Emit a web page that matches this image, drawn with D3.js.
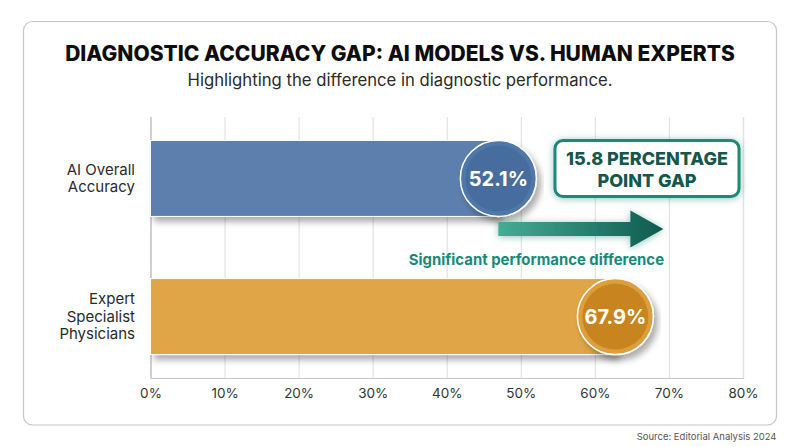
<!DOCTYPE html>
<html>
<head>
<meta charset="utf-8">
<script src="https://cdn.jsdelivr.net/npm/d3@7/dist/d3.min.js"></script>
<style>
  html, body { margin: 0; padding: 0; background: #fff; }
  svg { display: block; }
  text { font-family: Inter, "Open Sans", sans-serif; }
  .tick text { font-size: 13.5px; fill: #333; }
</style>
</head>
<body>
<div id="chart"></div>
<script>
var categories = ["AI Overall Accuracy", "Expert Specialist Physicians"];
var categoryLines = [["AI Overall", "Accuracy"], ["Expert", "Specialist", "Physicians"]];
var values = [52.1, 67.9];
var tickValues = [0, 10, 20, 30, 40, 50, 60, 70, 80];
var barColors = ["#5b7fad", "#e0a546"];
var ringColors = ["#5077a8", "#dd9f3c"];
var badgeColors = ["#466d9e", "#c8851f"];

var svgWidth = 800;
var svgHeight = 447;
var margin = { top: 117, right: 57, bottom: 69, left: 150.5 };
var width = svgWidth - margin.left - margin.right;
var height = svgHeight - margin.top - margin.bottom;

var svg = d3.select("#chart").append("svg")
  .attr("width", svgWidth)
  .attr("height", svgHeight);

var defs = svg.append("defs");

// soft shadow under bars and badges
var shadow = defs.append("filter").attr("id", "shadow")
  .attr("x", "-10%").attr("y", "-20%").attr("width", "120%").attr("height", "150%");
shadow.append("feDropShadow")
  .attr("dx", 4).attr("dy", 5).attr("stdDeviation", 3)
  .attr("flood-color", "#000").attr("flood-opacity", 0.32);

// teal glow for the callout and arrow
var glow = defs.append("filter").attr("id", "glow")
  .attr("x", "-15%").attr("y", "-30%").attr("width", "130%").attr("height", "160%");
glow.append("feDropShadow")
  .attr("dx", 0).attr("dy", 1).attr("stdDeviation", 3.5)
  .attr("flood-color", "#1a8a78").attr("flood-opacity", 0.5);

var arrowFill = defs.append("linearGradient").attr("id", "arrowFill");
arrowFill.append("stop").attr("offset", "0%").attr("stop-color", "#46ab95");
arrowFill.append("stop").attr("offset", "100%").attr("stop-color", "#0e5a4e");

// card behind the chart
svg.append("rect")
  .attr("x", 23.5).attr("y", 21.5)
  .attr("width", 753).attr("height", 403.5)
  .attr("rx", 9)
  .attr("fill", "#fff")
  .attr("stroke", "#c6c6c6")
  .attr("stroke-width", 1.2);

svg.append("text")
  .attr("x", 400).attr("y", 61)
  .attr("text-anchor", "middle")
  .attr("font-size", 21)
  .attr("font-weight", 800)
  .attr("fill", "#0d0d0d")
  .text("DIAGNOSTIC ACCURACY GAP: AI MODELS VS. HUMAN EXPERTS");

svg.append("text")
  .attr("x", 400).attr("y", 86)
  .attr("text-anchor", "middle")
  .attr("font-size", 16.7)
  .attr("fill", "#2a2a2a")
  .text("Highlighting the difference in diagnostic performance.");

svg.append("text")
  .attr("x", 776.5).attr("y", 440)
  .attr("text-anchor", "end")
  .attr("font-size", 9.5)
  .attr("fill", "#555")
  .text("Source: Editorial Analysis 2024");

var chartGroup = svg.append("g")
  .attr("transform", `translate(${margin.left}, ${margin.top})`);

var xScale = d3.scaleLinear().domain([0, 80]).range([0, width]);
var yScale = d3.scaleBand().domain(categories).range([0, height])
  .paddingInner(0.45).paddingOuter(0.17);

// gridlines are the long ticks of the bottom axis
var xAxis = chartGroup.append("g")
  .attr("transform", `translate(0, ${height})`)
  .call(d3.axisBottom(xScale)
    .tickValues(tickValues)
    .tickSize(-height)
    .tickPadding(10)
    .tickFormat(d => d + "%"));
xAxis.select(".domain").attr("stroke", "#c6c6c6").attr("stroke-width", 1.2);
xAxis.selectAll(".tick line")
  .attr("stroke", d => d === 0 ? "#c6c6c6" : "#e3e3e3")
  .attr("stroke-width", 1.2);

// category labels, one text line per row
var yLabels = chartGroup.selectAll(".yLabel")
  .data(categories)
  .enter()
  .append("text")
  .attr("class", "yLabel")
  .attr("text-anchor", "end")
  .attr("font-size", 15)
  .attr("fill", "#2a2a2a");
yLabels.each(function(d, i) {
  var lines = categoryLines[i];
  var cy = yScale(d) + yScale.bandwidth() / 2;
  d3.select(this).selectAll("tspan")
    .data(lines)
    .enter()
    .append("tspan")
    .attr("x", -15.5)
    .attr("y", (l, j) => cy + (j - (lines.length - 1) / 2) * 17.7 + 5)
    .text(l => l);
});

var badgeR = 38;

// bars stop at the badge centre, the badge sits on the bar end
chartGroup.selectAll(".bar")
  .data(categories)
  .enter()
  .append("rect")
  .attr("class", "bar")
  .attr("x", 0)
  .attr("y", d => yScale(d))
  .attr("width", (d, i) => xScale(values[i]) - badgeR)
  .attr("height", yScale.bandwidth())
  .attr("fill", (d, i) => barColors[i])
  .attr("stroke", "#fff")
  .attr("stroke-width", 1)
  .attr("filter", "url(#shadow)");

var badges = chartGroup.selectAll(".badge")
  .data(categories)
  .enter()
  .append("g")
  .attr("class", "badge")
  .attr("transform", (d, i) => `translate(${xScale(values[i]) - badgeR}, ${yScale(d) + yScale.bandwidth() / 2})`);

badges.append("circle")
  .attr("r", badgeR)
  .attr("fill", (d, i) => ringColors[i])
  .attr("stroke", "#fff")
  .attr("stroke-width", 1.5)
  .attr("filter", "url(#shadow)");

badges.append("circle")
  .attr("r", badgeR - 5)
  .attr("fill", (d, i) => badgeColors[i]);

badges.append("text")
  .attr("text-anchor", "middle")
  .attr("y", 7.5)
  .attr("font-size", 20)
  .attr("font-weight", 700)
  .attr("fill", "#fff")
  .text((d, i) => values[i].toFixed(1) + "%");

// gap arrow, from the AI badge centre out past the expert value
var arrowY = 112;
var arrowStart = xScale(values[0]) - badgeR;
var arrowEnd = xScale(values[1]) + 10;
var arrowLine = d3.line();
chartGroup.append("path")
  .attr("d", arrowLine([
    [arrowStart, arrowY - 7],
    [arrowEnd - 33, arrowY - 7],
    [arrowEnd - 33, arrowY - 18.5],
    [arrowEnd, arrowY],
    [arrowEnd - 33, arrowY + 18.5],
    [arrowEnd - 33, arrowY + 7],
    [arrowStart, arrowY + 7]
  ]) + "Z")
  .attr("fill", "url(#arrowFill)")
  .attr("filter", "url(#glow)");

svg.append("text")
  .attr("x", 664).attr("y", 265)
  .attr("text-anchor", "end")
  .attr("font-size", 14.9)
  .attr("font-weight", 700)
  .attr("fill", "#1a8a78")
  .text("Significant performance difference");

// callout box
svg.append("rect")
  .attr("x", 555).attr("y", 140.5)
  .attr("width", 184).attr("height", 56)
  .attr("rx", 8)
  .attr("fill", "#fff")
  .attr("stroke", "#1f8a78")
  .attr("stroke-width", 3)
  .attr("filter", "url(#glow)");

var calloutLines = ["15.8 PERCENTAGE", "POINT GAP"];
svg.selectAll(".callout")
  .data(calloutLines)
  .enter()
  .append("text")
  .attr("class", "callout")
  .attr("x", 647)
  .attr("y", (d, i) => 165 + i * 22)
  .attr("text-anchor", "middle")
  .attr("font-size", 18)
  .attr("font-weight", 800)
  .attr("fill", "#14574d")
  .text(d => d);
</script>
</body>
</html>
